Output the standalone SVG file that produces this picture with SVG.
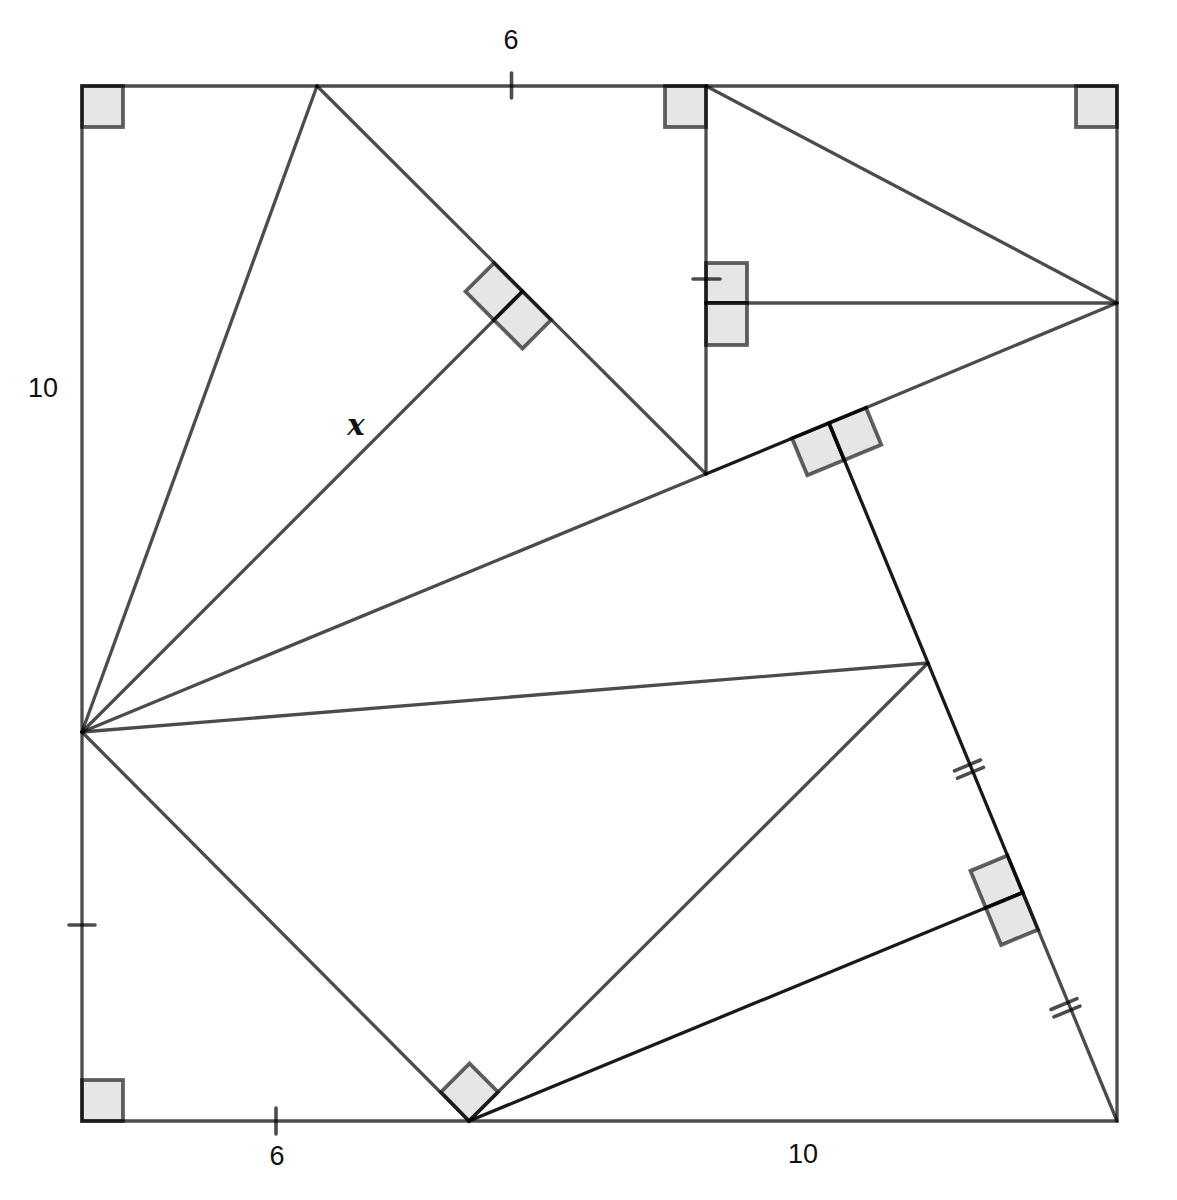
<svg xmlns="http://www.w3.org/2000/svg" width="1177" height="1200" viewBox="0 0 1177 1200">
<style>
.ln{stroke:#000;stroke-opacity:0.7;stroke-width:3.3;fill:none;stroke-linecap:round}
.dk{stroke:#000;stroke-opacity:0.9;stroke-width:3.3;fill:none;stroke-linecap:round}
.ra{fill:#e6e6e6;stroke:#000;stroke-opacity:0.62;stroke-width:3.8;stroke-linejoin:miter}
.tk{stroke:#000;stroke-opacity:0.7;stroke-width:3.6;stroke-linecap:round}
.lb{font-family:"Liberation Sans",Arial,sans-serif;font-size:27px;fill:#111;text-anchor:middle}
.vx{font-family:"DejaVu Serif","Liberation Serif",serif;font-style:italic;font-weight:bold;font-size:29px;fill:#111;text-anchor:middle}
</style>
<rect width="1177" height="1200" fill="#fff"/>
<g id="right-angle-marks">
<rect class="ra" x="82" y="86" width="41" height="41"/>
<rect class="ra" x="665" y="86" width="41" height="41"/>
<rect class="ra" x="1076" y="86" width="41" height="41"/>
<rect class="ra" x="82" y="1080" width="41" height="41"/>
<rect class="ra" x="706" y="263" width="41" height="40"/>
<rect class="ra" x="706" y="303" width="41" height="42"/>
<polygon class="ra" points="522.5,291.5 494,263 465.5,291.5 494,320"/>
<polygon class="ra" points="522.5,291.5 551,320 522.5,348.5 494,320"/>
<polygon class="ra" points="829,423 792,438.3 807.3,475.3 844.3,460"/>
<polygon class="ra" points="829,423 866,407.7 881.3,444.7 844.3,460"/>
<polygon class="ra" points="1022.8,892.6 1007.5,855.6 970.5,870.9 985.8,907.9"/>
<polygon class="ra" points="1022.8,892.6 1038.1,929.6 1001.1,944.9 985.8,907.9"/>
<polygon class="ra" points="469,1121 441,1092 469.5,1063.5 498,1092"/>
</g>
<g id="connectors">
<polygon class="ln" points="82,86 1117,86 1117,1121 82,1121"/>
<line class="ln" x1="82" y1="732" x2="317" y2="86"/>
<line class="ln" x1="317" y1="86" x2="706" y2="474"/>
<line class="ln" x1="82" y1="732" x2="522.5" y2="291.5"/>
<line class="ln" x1="706" y1="86" x2="706" y2="474"/>
<line class="ln" x1="706" y1="86" x2="1117" y2="303"/>
<line class="ln" x1="706" y1="303" x2="1117" y2="303"/>
<line class="ln" x1="82" y1="732" x2="706" y2="474"/>
<line class="ln" x1="866" y1="407.7" x2="1117" y2="303"/>
<line class="dk" x1="706" y1="474" x2="866" y2="407.7"/>
<line class="dk" x1="829" y1="423" x2="1022.8" y2="892.6"/>
<line class="ln" x1="1022.8" y1="892.6" x2="1117" y2="1121"/>
<line class="ln" x1="82" y1="732" x2="928" y2="663"/>
<line class="ln" x1="82" y1="732" x2="469" y2="1121"/>
<line class="ln" x1="469" y1="1121" x2="928" y2="663"/>
<line class="dk" x1="469" y1="1121" x2="1022.8" y2="892.6"/>
</g>
<g id="ticks">
<line class="tk" x1="511.5" y1="73" x2="511.5" y2="98"/>
<line class="tk" x1="69" y1="925" x2="95" y2="925"/>
<line class="tk" x1="276" y1="1108" x2="276" y2="1134"/>
<line class="tk" x1="693" y1="279" x2="720" y2="279"/>
<line class="tk" x1="954.5" y1="770.8" x2="980.5" y2="760"/>
<line class="tk" x1="957.5" y1="778.2" x2="983.5" y2="767.4"/>
<line class="tk" x1="1051" y1="1009.5" x2="1077" y2="998.7"/>
<line class="tk" x1="1054" y1="1016.9" x2="1080" y2="1006.1"/>
</g>
<g id="labels">
<text class="lb" x="511" y="49">6</text>
<text class="lb" x="43" y="397">10</text>
<text class="lb" x="277" y="1165">6</text>
<text class="lb" x="803" y="1163">10</text>
<text class="vx" x="356" y="435">x</text>
</g>
</svg>
